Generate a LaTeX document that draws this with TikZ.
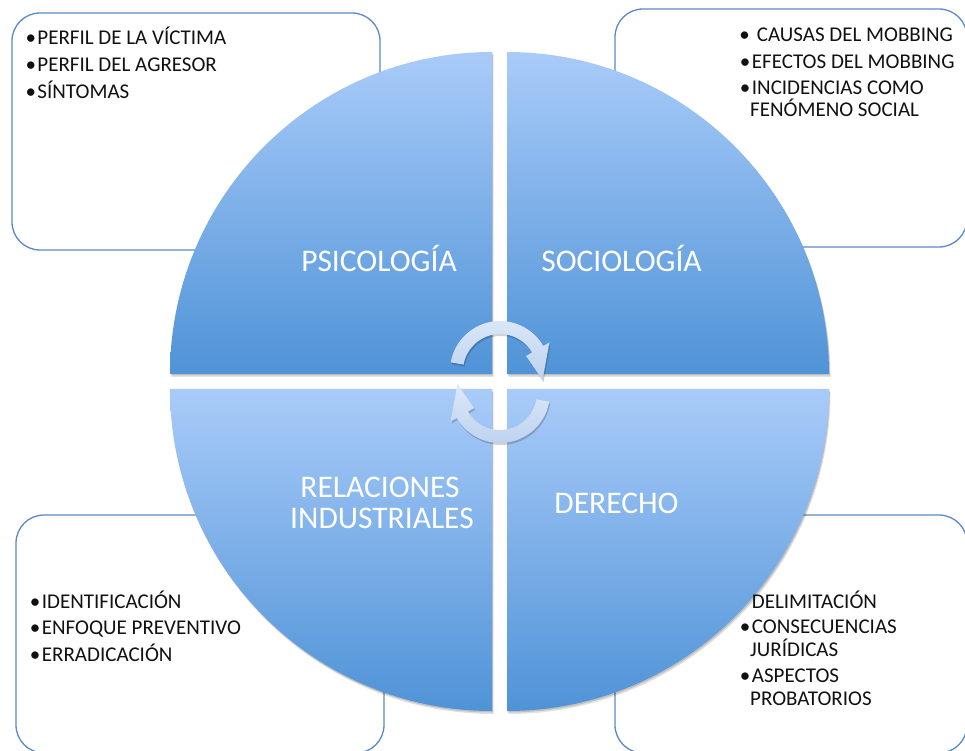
\documentclass[tikz,border=0pt]{standalone}
\usepackage{fontspec}
\setmainfont{Carlito}
\usetikzlibrary{calc,shadows}
\definecolor{qtop}{HTML}{A9CBF9}
\definecolor{qbot}{HTML}{4F93D7}
\definecolor{boxline}{HTML}{5A8AC6}
\definecolor{txt}{HTML}{111111}
\definecolor{arrtop}{HTML}{DCE8F9}
\definecolor{arrbot}{HTML}{BDD1EF}
\newcommand{\itembul}{\llap{•\kern1.5pt}}
\newcommand{\itembulwide}{\llap{•\kern7pt}}
\tikzset{
  quad/.style={top color=qtop,bottom color=qbot,draw=none,
    drop shadow={shadow xshift=1.5pt,shadow yshift=-3pt,opacity=0.12,fill=black},
    drop shadow={shadow xshift=0.8pt,shadow yshift=-1.5pt,opacity=0.15,fill=black}},
  infobox/.style={draw=boxline,line width=1.3pt,rounded corners=28pt,fill=white},
  item/.style={anchor=base west,inner sep=0pt,text=txt,font=\fontsize{21}{25}\selectfont},
  qlabel/.style={anchor=base,inner sep=0pt,text=white,font=\fontsize{31.5}{36}\selectfont},
  cyc/.style={top color=arrtop,bottom color=arrbot,draw=none,
    drop shadow={shadow xshift=1pt,shadow yshift=-2pt,opacity=0.18,fill=black}}
}
\begin{document}
\begin{tikzpicture}[x=1pt,y=1pt]
\useasboundingbox (0,0) rectangle (965,750);
% information boxes
\draw[infobox] (12,737) rectangle (380,500);
\draw[infobox] (615,741) rectangle (967,503);
\draw[infobox] (16,235) rectangle (384,-3);
\draw[infobox] (615,235) rectangle (967,-3);
% quadrants
\path[quad] (492,376) -- (170,376) arc[start angle=180,end angle=90,radius=322] -- cycle;
\path[quad] (507,376) -- (507,698) arc[start angle=90,end angle=0,radius=322] -- cycle;
\path[quad] (492,361) -- (492,39) arc[start angle=270,end angle=180,radius=322] -- cycle;
\path[quad] (507,361) -- (829,361) arc[start angle=0,end angle=-90,radius=322] -- cycle;
% quadrant labels
\node[qlabel] (psi) at (379,478) {PSICOLOGÍA};
\node[qlabel] (soc) at (621.5,478) {SOCIOLOGÍA};
\node[qlabel] (rel1) at (380,252.3) {RELACIONES};
\node[qlabel] (rel2) at (382,221.7) {INDUSTRIALES};
\node[qlabel] (der) at (616.5,236.7) {DERECHO};
% cycle arrows
\coordinate (ct) at (500,379);
\coordinate (cb) at (500,357);
\path[cyc] ($(ct)+(170:50pt)$) arc[start angle=170,end angle=30,radius=50]
  -- ($(ct)+(30:57pt)$) -- ($(ct)+(-12:43.5pt)$) -- ($(ct)+(30:30pt)$)
  -- ($(ct)+(30:37pt)$) arc[start angle=30,end angle=170,radius=37] -- cycle;
\path[cyc] ($(cb)+(-10:50pt)$) arc[start angle=-10,end angle=-150,radius=50]
  -- ($(cb)+(210:57pt)$) -- ($(cb)+(168:43.5pt)$) -- ($(cb)+(210:30pt)$)
  -- ($(cb)+(210:37pt)$) arc[start angle=-150,end angle=-10,radius=37] -- cycle;
% texts top-left
\node[item] (tl1) at (37.3,705) {\itembul PERFIL DE LA VÍCTIMA};
\node[item] (tl2) at (37.3,678) {\itembul PERFIL DEL AGRESOR};
\node[item] (tl3) at (37.3,651) {\itembul SÍNTOMAS};
% texts top-right
\node[item] (tr1) at (756.7,708.3) {\itembulwide CAUSAS DEL MOBBING};
\node[item] (tr2) at (751.7,681.7) {\itembul EFECTOS DEL MOBBING};
\node[item] (tr3) at (751.7,655) {\itembul INCIDENCIAS COMO};
\node[item] (tr4) at (750,633) {FENÓMENO SOCIAL};
% texts bottom-left
\node[item] (bl1) at (41.7,142) {\itembul IDENTIFICACIÓN};
\node[item] (bl2) at (41.7,116) {\itembul ENFOQUE PREVENTIVO};
\node[item] (bl3) at (41.7,89) {\itembul ERRADICACIÓN};
% texts bottom-right
\node[item] (br1) at (751.7,142) {DELIMITACIÓN};
\node[item] (br2) at (751.7,116.7) {\itembul CONSECUENCIAS};
\node[item] (br3) at (750,94) {JURÍDICAS};
\node[item] (br4) at (751.7,67.3) {\itembul ASPECTOS};
\node[item] (br5) at (750,45) {PROBATORIOS};
\end{tikzpicture}
\end{document}
